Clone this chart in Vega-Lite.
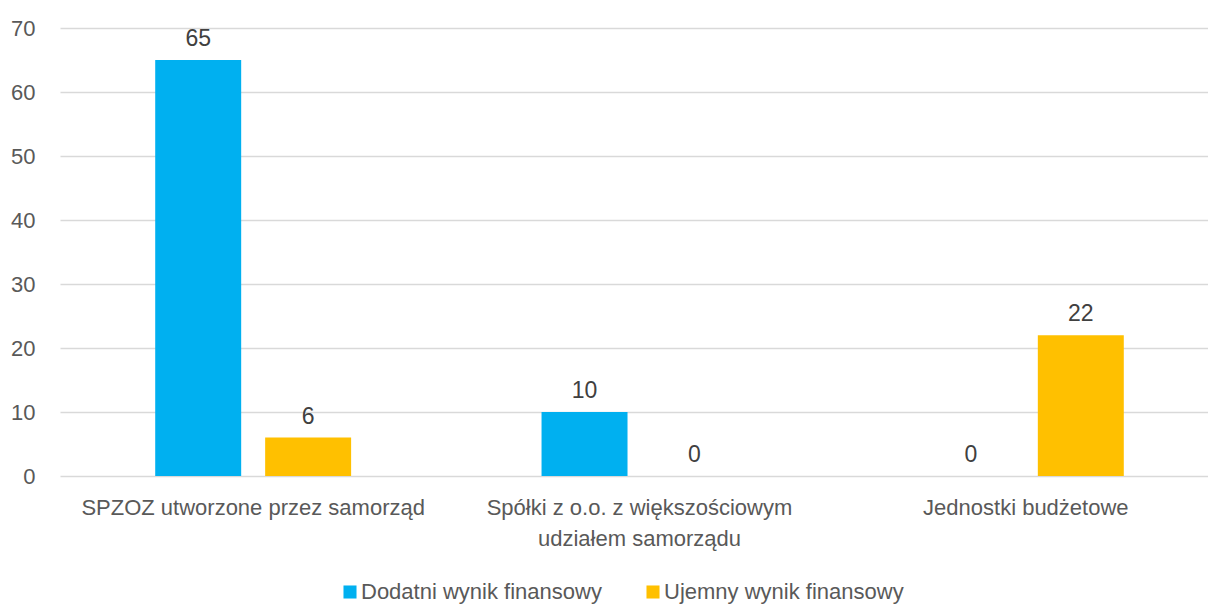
{
  "$schema": "https://vega.github.io/schema/vega-lite/v6.json",
  "width": 1148,
  "height": 448,
  "padding": {"left": 60, "top": 28, "right": 0, "bottom": 128},
  "autosize": {"type": "none"},
  "background": "white",
  "config": {
    "view": {"stroke": null},
    "font": "Liberation Sans",
    "text": {"font": "Liberation Sans"}
  },
  "data": {
    "values": [
      {"kategoria": "SPZOZ utworzone przez samorząd", "wynik": "Dodatni wynik finansowy", "liczba": 65},
      {"kategoria": "SPZOZ utworzone przez samorząd", "wynik": "Ujemny wynik finansowy", "liczba": 6},
      {"kategoria": "Spółki z o.o. z większościowym udziałem samorządu", "wynik": "Dodatni wynik finansowy", "liczba": 10},
      {"kategoria": "Spółki z o.o. z większościowym udziałem samorządu", "wynik": "Ujemny wynik finansowy", "liczba": 0},
      {"kategoria": "Jednostki budżetowe", "wynik": "Dodatni wynik finansowy", "liczba": 0},
      {"kategoria": "Jednostki budżetowe", "wynik": "Ujemny wynik finansowy", "liczba": 22}
    ]
  },
  "encoding": {
    "x": {
      "field": "kategoria",
      "type": "nominal",
      "sort": null,
      "scale": {"range": [0, 1159], "paddingInner": 0, "paddingOuter": 0},
      "axis": {
        "title": null,
        "labelAngle": 0,
        "labelFont": "Liberation Sans",
        "labelFontSize": 22,
        "labelColor": "#595959",
        "labelPadding": 21,
        "labelLineHeight": 31,
        "labelLimit": 500,
        "domain": false,
        "ticks": false,
        "labelExpr": "datum.value == 'Spółki z o.o. z większościowym udziałem samorządu' ? ['Spółki z o.o. z większościowym', 'udziałem samorządu'] : datum.label"
      }
    },
    "xOffset": {
      "field": "wynik",
      "type": "nominal",
      "scale": {"paddingInner": 0.218, "paddingOuter": 0.866}
    },
    "y": {
      "field": "liczba",
      "type": "quantitative",
      "scale": {"domain": [0, 70], "nice": false},
      "axis": {
        "title": null,
        "values": [0, 10, 20, 30, 40, 50, 60, 70],
        "labelFont": "Liberation Sans",
        "labelFontSize": 22,
        "labelColor": "#595959",
        "labelPadding": 25,
        "domain": false,
        "ticks": false,
        "gridColor": "#d9d9d9",
        "gridWidth": 1.5
      }
    }
  },
  "layer": [
    {
      "mark": {"type": "bar"},
      "encoding": {
        "color": {
          "field": "wynik",
          "type": "nominal",
          "scale": {"domain": ["Dodatni wynik finansowy", "Ujemny wynik finansowy"], "range": ["#00B0F0", "#FFC000"]},
          "legend": {
            "title": null,
            "orient": "none",
            "direction": "horizontal",
            "legendX": 279,
            "legendY": 553,
            "symbolType": "square",
            "symbolSize": 170,
            "symbolStrokeWidth": 0,
            "symbolOpacity": 1,
            "labelFont": "Liberation Sans",
            "labelFontSize": 22,
            "labelColor": "#595959",
            "labelOffset": 0,
            "columnPadding": 40,
            "labelLimit": 400
          }
        }
      }
    },
    {
      "mark": {"type": "text", "dy": -14, "baseline": "alphabetic", "fontSize": 23, "color": "#404040", "font": "Liberation Sans"},
      "encoding": {
        "text": {"field": "liczba", "type": "quantitative"}
      }
    }
  ]
}
